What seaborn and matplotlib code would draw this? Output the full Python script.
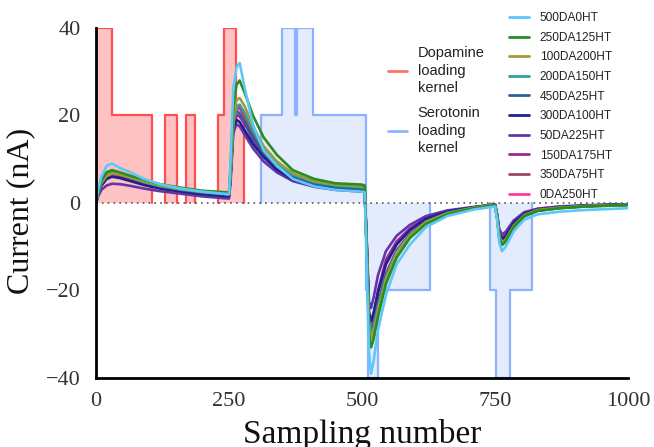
import numpy as np
import pandas as pd
import matplotlib
matplotlib.use("Agg")
import matplotlib.pyplot as plt
import seaborn as sns
from matplotlib.lines import Line2D

samples = [0, 4, 10, 20, 30, 45, 65, 90, 120, 160, 200, 250,
           253, 258, 264, 270, 280, 295, 315, 340, 370, 410, 450, 500,
           505, 509, 513, 517, 522, 530, 545, 565, 590, 620, 660, 710, 750,
           754, 758, 763, 770, 785, 805, 830, 870, 920, 1000]

tr_500DA0HT = [0, 3, 6, 8.5, 9, 8, 7, 5.5, 4.3, 3.3, 2.6, 2.0,
               10, 26, 31, 32, 26, 18, 12, 8.5, 5.5, 3.8, 3, 2.6,
               2.4, -15, -34, -39, -36, -29, -21, -14, -9.5, -5.5, -3, -1.5, -0.8,
               -4, -9, -11, -10, -6.5, -3.8, -2.6, -2, -1.6, -1.2]
tr_250DA125HT = [0, 2.5, 5, 7, 7.5, 7, 6.2, 5.3, 4.3, 3.5, 2.8, 2.4,
                 8, 22, 27, 28, 25, 20, 15, 11, 7.5, 5.5, 4.5, 4.2,
                 4, -12, -30, -33, -31, -26, -18.5, -12.5, -8, -4.8, -2.6, -1.2, -0.5,
                 -3.5, -8, -9.5, -8.8, -5.5, -3, -1.8, -1.2, -0.8, -0.4]
tr_100DA200HT = [0, 2.2, 4.5, 6.2, 6.8, 6.5, 5.8, 4.9, 4, 3.2, 2.6, 2.1,
                 7, 19, 23.5, 24, 22, 17.5, 13, 9.5, 6.8, 5, 4.2, 3.8,
                 3.6, -11, -28, -31, -29.5, -24.5, -17.5, -11.5, -7.5, -4.4, -2.4, -1.1, -0.4,
                 -3.2, -7.5, -9, -8.4, -5.2, -2.8, -1.6, -1.1, -0.7, -0.4]
tr_200DA150HT = [0, 2.5, 4.8, 6.5, 7, 6.6, 5.8, 4.8, 3.9, 3.1, 2.5, 2,
                 7, 18, 22, 22.5, 20.5, 16.5, 12.5, 9, 6.5, 4.8, 4, 3.6,
                 3.4, -11, -27, -30, -28.5, -24, -17, -11.2, -7.3, -4.3, -2.3, -1.1, -0.4,
                 -3.2, -7.6, -9.2, -8.5, -5.3, -2.9, -1.7, -1.1, -0.7, -0.4]
tr_450DA25HT = [0, 2.8, 5.2, 7, 7.4, 6.8, 5.9, 4.8, 3.8, 3, 2.4, 1.9,
                7, 19, 21, 20.5, 18.5, 15, 11.5, 8.3, 6, 4.4, 3.6, 3.2,
                3, -11, -27, -29, -27.5, -23, -16.5, -11, -7.2, -4.3, -2.3, -1.1, -0.5,
                -3.4, -8, -9.6, -8.8, -5.5, -3, -1.8, -1.2, -0.8, -0.5]
tr_300DA100HT = [0, 2, 4, 5.5, 6, 5.7, 5, 4.1, 3.3, 2.6, 2, 1.5,
                 6, 17, 19, 18.5, 16.5, 13.5, 10.5, 7.6, 5.4, 4, 3.3, 2.9,
                 2.7, -10, -25, -27, -25, -20.5, -14, -9.5, -6.2, -3.6, -2, -1, -0.4,
                 -3, -7, -8.3, -7.6, -4.6, -2.5, -1.5, -1, -0.6, -0.3]
tr_50DA225HT = [0, 1.5, 3, 4, 4.4, 4.3, 3.9, 3.3, 2.7, 2.1, 1.5, 1,
                5, 16, 18, 17.5, 15.5, 12.5, 9.5, 7, 5, 3.7, 3, 2.6,
                2.4, -9, -22.5, -24, -21.5, -16.5, -11, -7.5, -5, -3, -1.7, -0.9, -0.3,
                -2.6, -6, -7.2, -6.6, -4, -2.1, -1.3, -0.8, -0.5, -0.3]
tr_150DA175HT = [0, 2, 4, 5.6, 6.1, 5.9, 5.2, 4.3, 3.5, 2.8, 2.2, 1.7,
                 6.5, 17.5, 20, 19.8, 18, 14.5, 11, 8, 5.8, 4.3, 3.5, 3.1,
                 2.9, -10, -25, -27.5, -25.5, -20, -13, -8.8, -5.8, -3.4, -1.9, -1, -0.3,
                 -2.8, -6.6, -8, -7.3, -4.5, -2.4, -1.4, -0.9, -0.6, -0.3]
tr_350DA75HT = [0, 2.4, 4.6, 6.3, 6.8, 6.4, 5.6, 4.6, 3.7, 3, 2.4, 1.9,
                7, 18.5, 22, 22, 20, 16, 12, 8.8, 6.3, 4.6, 3.8, 3.4,
                3.2, -11, -27, -30, -28.5, -23.5, -16.5, -11, -7.2, -4.2, -2.3, -1.1, -0.4,
                -3.2, -7.6, -9.1, -8.4, -5.2, -2.8, -1.7, -1.1, -0.7, -0.4]
tr_0DA250HT = [0, 2.3, 4.5, 6.2, 6.7, 6.3, 5.5, 4.5, 3.6, 2.9, 2.3, 1.8,
               7, 18, 21.5, 21.5, 19.5, 15.5, 11.8, 8.6, 6.2, 4.5, 3.7, 3.3,
               3.1, -11, -27, -29.5, -28, -23, -16, -10.8, -7, -4.1, -2.2, -1.1, -0.4,
               -3.1, -7.4, -8.9, -8.2, -5, -2.7, -1.6, -1.1, -0.7, -0.4]

labels = ["500DA0HT", "250DA125HT", "100DA200HT", "200DA150HT", "450DA25HT",
          "300DA100HT", "50DA225HT", "150DA175HT", "350DA75HT", "0DA250HT"]
traces = [tr_500DA0HT, tr_250DA125HT, tr_100DA200HT, tr_200DA150HT, tr_450DA25HT,
          tr_300DA100HT, tr_50DA225HT, tr_150DA175HT, tr_350DA75HT, tr_0DA250HT]
colors = ["#5cc8f7", "#2a8c1e", "#9c9c38", "#35a0a0", "#2f5e9c",
          "#20208c", "#6535a8", "#9a289a", "#9a4668", "#ff3c9c"]

# loading kernels (step levels, one unit per pulse group)
da_x = [0, 0, 30, 106, 130, 130, 153, 170, 170, 187, 230, 230, 241, 263, 279]
da_y = [0, 40, 20, 0, 0, 20, 0, 0, 20, 0, 0, 20, 40, 20, 0]
da_unit = [0, 0, 0, 0, 1, 1, 1, 2, 2, 2, 3, 3, 3, 3, 3]
ht_x = [311, 311, 350, 374, 378, 408, 507, 512, 530, 628, 741, 741, 751, 778, 820]
ht_y = [0, 20, 40, 20, 40, 20, -20, -40, -20, 0, 0, -20, -40, -20, 0]
ht_unit = [0, 0, 0, 0, 0, 0, 0, 0, 0, 0, 1, 1, 1, 1, 1]

da_df = pd.DataFrame({"x": da_x, "y": da_y, "u": da_unit})
ht_df = pd.DataFrame({"x": ht_x, "y": ht_y, "u": ht_unit})

rows = []
for lab, tr in zip(labels, traces):
    rows.append(pd.DataFrame({"sample": samples, "current": tr, "series": lab}))
df = pd.concat(rows, ignore_index=True)

sns.set_style("white")
plt.rcParams["font.family"] = ["Liberation Serif", "DejaVu Serif"]

fig = plt.figure(figsize=(6.54, 4.47), dpi=100)
ax = fig.add_axes([0.1468, 0.1544, 0.8135, 0.783])

red_line = "#ff4f4f"
blue_line = "#8cb1ff"
ax.fill_between(da_df["x"], da_df["y"], step="post", color="#ffc2c2", lw=0, zorder=1)
ax.fill_between(ht_df["x"], ht_df["y"], step="post", color="#e3ebfc", lw=0, zorder=1)
sns.lineplot(data=da_df, x="x", y="y", units="u", estimator=None, sort=False,
             color=red_line, lw=1.6, drawstyle="steps-post", ax=ax, zorder=2)
sns.lineplot(data=ht_df, x="x", y="y", units="u", estimator=None, sort=False,
             color=blue_line, lw=1.6, drawstyle="steps-post", ax=ax, zorder=2)

# draw so the light-blue trace ends on top
order = labels[::-1]
sns.lineplot(data=df, x="sample", y="current", hue="series", hue_order=order,
             palette=dict(zip(labels, colors)), estimator=None, sort=False,
             lw=1.9, ax=ax, legend=False, zorder=3)

ax.axhline(0, color="#555555", ls=(0, (1, 2.5)), lw=1.2, zorder=4)

ax.set_xlim(0, 1000)
ax.set_ylim(-40, 40)
ax.set_xticks([0, 250, 500, 750, 1000])
ax.set_yticks([-40, -20, 0, 20, 40])
ax.tick_params(length=0, labelsize=16, colors="#333333")
ax.tick_params(axis="y", pad=11)
ax.tick_params(axis="x", pad=10)
for s in ["top", "right"]:
    ax.spines[s].set_visible(False)
for s in ["left", "bottom"]:
    ax.spines[s].set_color("black")
    ax.spines[s].set_linewidth(2)
    ax.spines[s].set_zorder(6)

ax.set_xlabel("Sampling number", fontsize=24, color="#111111")
ax.set_ylabel("Current (nA)", fontsize=23, color="#111111")
ax.xaxis.label.set_va("baseline")
ax.xaxis.set_label_coords(0.5, -0.186)
ax.yaxis.set_label_coords(-0.115, 0.477)

k_handles = [Line2D([], [], color="#ff6f6f", lw=2),
             Line2D([], [], color="#8fb5ff", lw=2)]
leg1 = ax.legend(k_handles, ["Dopamine\nloading\nkernel", "Serotonin\nloading\nkernel"],
                 loc="upper left", bbox_to_anchor=(0.593, 0.896),
                 bbox_transform=fig.transFigure, frameon=False, borderpad=0,
                 borderaxespad=0, handlelength=1.3, handletextpad=0.75,
                 labelspacing=0.78, prop={"family": "Liberation Sans", "size": 10.5})
for t in leg1.get_texts():
    t.set_color("#222222")
    t.set_linespacing(1.3)
ax.add_artist(leg1)

s_handles = [Line2D([], [], color=c, lw=2) for c in colors]
leg2 = ax.legend(s_handles, labels, loc="upper left", bbox_to_anchor=(0.778, 0.973),
                 bbox_transform=fig.transFigure, frameon=False, borderpad=0,
                 borderaxespad=0, handlelength=1.7, handletextpad=0.9,
                 labelspacing=0.64, prop={"family": "Liberation Sans", "size": 8.6})
for t in leg2.get_texts():
    t.set_color("#222222")

fig.savefig("out.png", dpi=100)
